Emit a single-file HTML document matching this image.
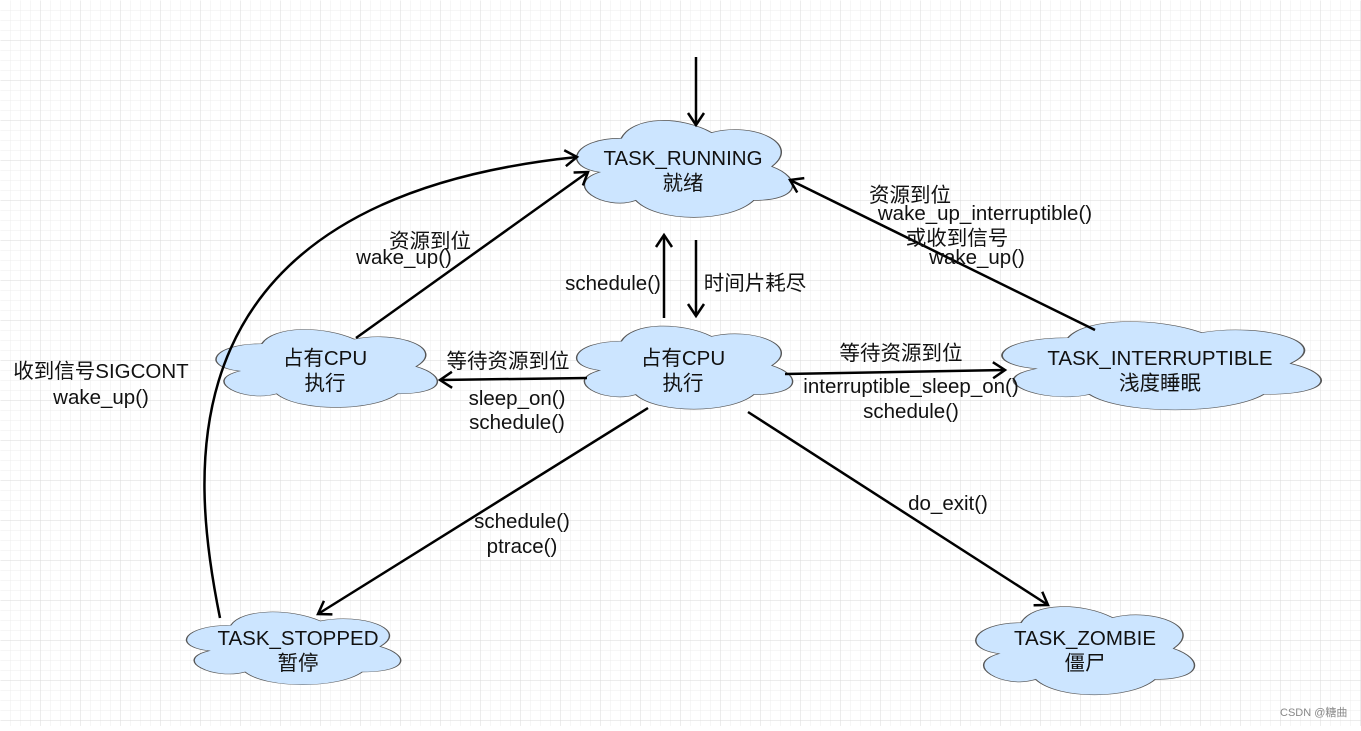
<!DOCTYPE html>
<html><head><meta charset="utf-8"><style>
body{margin:0;width:1361px;height:726px;overflow:hidden;background:#fff}
svg text{font-family:"Liberation Sans","Noto Sans CJK SC",sans-serif;font-size:20.5px;fill:#111}
</style></head><body>
<svg width="1361" height="726" xmlns="http://www.w3.org/2000/svg">
<defs>
<pattern id="g1" width="10" height="10" patternUnits="userSpaceOnUse"><path d="M10 0V10H0" fill="none" stroke="#ececec" stroke-width="1"/></pattern>
<pattern id="g2" width="40" height="40" patternUnits="userSpaceOnUse"><rect width="40" height="40" fill="url(#g1)"/><path d="M40 0V40H0" fill="none" stroke="#dadada" stroke-width="1"/></pattern>
<path id="cl" d="M0.25 0.25C0.05 0.25 0 0.5 0.16 0.55C0 0.66 0.18 0.9 0.31 0.8C0.4 1 0.7 1 0.8 0.8C1 0.8 1 0.6 0.875 0.5C1 0.3 0.8 0.1 0.625 0.2C0.5 0.05 0.3 0.05 0.25 0.25Z"/>
<marker id="a" markerWidth="20" markerHeight="20" refX="15" refY="10" orient="auto" markerUnits="userSpaceOnUse"><path d="M3 2L15 10L3 18" fill="none" stroke="#000" stroke-width="2.5"/></marker>
</defs>
<rect x="0" y="0" width="1361" height="726" fill="url(#g2)" transform="translate(0.5,0.5)"/>
<g fill="#cce5ff" stroke="#555">
<use href="#cl" transform="translate(561,110) scale(241,113)" stroke-width="0.006"/>
<use href="#cl" transform="translate(200,321) scale(247,91)" stroke-width="0.006"/>
<use href="#cl" transform="translate(561,317) scale(241,97)" stroke-width="0.006"/>
<use href="#cl" transform="translate(979,312) scale(356,103)" stroke-width="0.005"/>
<use href="#cl" transform="translate(171,604) scale(239,85)" stroke-width="0.006"/>
<use href="#cl" transform="translate(960,597) scale(244,103)" stroke-width="0.006"/>
</g>
<g fill="none" stroke="#000" stroke-width="2.5" marker-end="url(#a)">
<path d="M696 57V125"/>
<path d="M220 618C190 470 160 200 577 157"/>
<path d="M356 338L588 172"/>
<path d="M664 318V235"/>
<path d="M696 240V316"/>
<path d="M587 378L440 380"/>
<path d="M785 374L1005 370"/>
<path d="M1095 330L790 180"/>
<path d="M648 408L318 614"/>
<path d="M748 412L1048 605"/>
</g>
<g text-anchor="middle">
<text x="683" y="165">TASK_RUNNING</text><text x="683" y="190">就绪</text>
<text x="325" y="365">占有CPU</text><text x="325" y="390">执行</text>
<text x="683" y="365">占有CPU</text><text x="683" y="390">执行</text>
<text x="1160" y="365">TASK_INTERRUPTIBLE</text><text x="1160" y="390">浅度睡眠</text>
<text x="298" y="645">TASK_STOPPED</text><text x="298" y="670">暂停</text>
<text x="1085" y="645">TASK_ZOMBIE</text><text x="1085" y="670">僵尸</text>
<text x="430" y="248">资源到位</text><text x="404" y="264">wake_up()</text>
<text x="101" y="378">收到信号SIGCONT</text><text x="101" y="404">wake_up()</text>
<text x="613" y="290">schedule()</text>
<text x="755" y="290">时间片耗尽</text>
<text x="508" y="368">等待资源到位</text>
<text x="517" y="405">sleep_on()</text><text x="517" y="429">schedule()</text>
<text x="901" y="360">等待资源到位</text>
<text x="911" y="393">interruptible_sleep_on()</text><text x="911" y="418">schedule()</text>
<text x="910" y="202">资源到位</text><text x="985" y="220">wake_up_interruptible()</text>
<text x="957" y="245">或收到信号</text><text x="977" y="264">wake_up()</text>
<text x="522" y="528">schedule()</text><text x="522" y="553">ptrace()</text>
<text x="948" y="510">do_exit()</text>
</g>
<text x="1280" y="716" style="font-size:11px;fill:#888">CSDN @糖曲</text>
</svg>
</body></html>
